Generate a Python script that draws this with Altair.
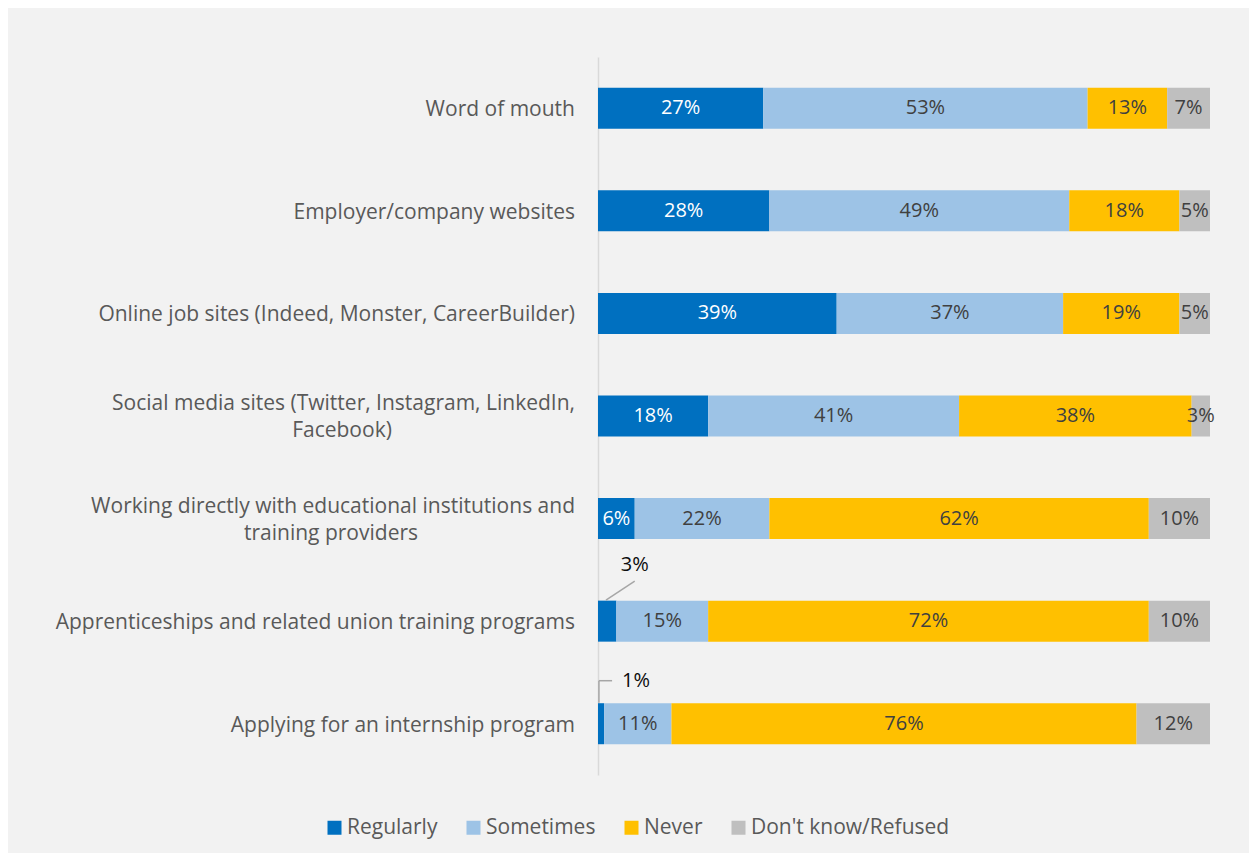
import altair as alt
import pandas as pd

sources = [
    "Word of mouth",
    "Employer/company websites",
    "Online job sites (Indeed, Monster, CareerBuilder)",
    "Social media sites (Twitter, Instagram, LinkedIn, Facebook)",
    "Working directly with educational institutions and training providers",
    "Apprenticeships and related union training programs",
    "Applying for an internship program",
]
# axis label lines (wrapped as in the original)
label_line1 = [
    "Word of mouth",
    "Employer/company websites",
    "Online job sites (Indeed, Monster, CareerBuilder)",
    "Social media sites (Twitter, Instagram, LinkedIn,",
    "Working directly with educational institutions and",
    "Apprenticeships and related union training programs",
    "Applying for an internship program",
]
label_line2 = ["", "", "", "Facebook)", "training providers", "", ""]

categories = ["Regularly", "Sometimes", "Never", "Don't know/Refused"]
regularly = [27, 28, 39, 18, 6, 3, 1]
sometimes = [53, 49, 37, 41, 22, 15, 11]
never = [13, 18, 19, 38, 62, 72, 76]
dont_know = [7, 5, 5, 3, 10, 10, 12]
colors = ["#0070c0", "#9dc3e6", "#ffc000", "#bfbfbf"]

rows = []
for i, s in enumerate(sources):
    for j, (c, vals) in enumerate(zip(categories, [regularly, sometimes, never, dont_know])):
        rows.append({"source": s, "category": c, "value": vals[i], "order": j})
df = pd.DataFrame(rows)

ldf = pd.DataFrame({"source": sources, "line1": label_line1, "line2": label_line2})

FONT = "Open Sans"
LFS = 21
FS = 20

yenc = alt.Y(
    "source:N",
    sort=sources,
    title=None,
    scale=alt.Scale(paddingInner=0.6, paddingOuter=0.3),
    axis=alt.Axis(
        labels=False,
        ticks=False,
        domainColor="#d9d9d9",
        domainWidth=1.5,
    ),
)
ysimple = alt.Y("source:N", sort=sources)

base = alt.Chart(df).transform_stack(
    stack="value", as_=["x0", "x1"], groupby=["source"], sort=[alt.SortField("order")]
).transform_calculate(mid="(datum.x0 + datum.x1) / 2", lbl="datum.value + '%'")

bars = base.mark_bar().encode(
    y=yenc,
    x=alt.X("x0:Q", scale=alt.Scale(domain=[0, 100], nice=False), axis=None),
    x2="x1:Q",
    color=alt.Color(
        "category:N",
        scale=alt.Scale(domain=categories, range=colors),
        sort=categories,
        legend=alt.Legend(
            title=None,
            orient="none",
            direction="horizontal",
            legendX=-274,
            legendY=760,
            symbolType="square",
            symbolSize=196,
            symbolStrokeWidth=0,
            labelFont=FONT,
            labelFontSize=LFS,
            labelColor="#595959",
            labelOffset=2,
            labelLimit=400,
            columnPadding=25,
        ),
    ),
    order=alt.Order("order:Q"),
)

texts = base.transform_filter(
    "!(datum.category == 'Regularly' && datum.value <= 3)"
).mark_text(font=FONT, fontSize=FS, baseline="middle").encode(
    y=ysimple,
    x=alt.X("mid:Q"),
    text="lbl:N",
    color=alt.condition(
        "datum.category == 'Regularly'", alt.value("white"), alt.value("#404040")
    ),
)

# category labels (left of the axis)
lab_style = dict(font=FONT, fontSize=LFS, baseline="middle", color="#595959")
lab_single = alt.Chart(ldf).transform_filter("datum.line2 == ''").mark_text(
    align="right", yOffset=2, **lab_style
).encode(y=ysimple, x=alt.value(-23), text="line1:N")
lab_first = alt.Chart(ldf).transform_filter("datum.line2 != ''").mark_text(
    align="right", yOffset=-12, **lab_style
).encode(y=ysimple, x=alt.value(-23), text="line1:N")
lab_second_a = alt.Chart(ldf).transform_filter(
    "datum.line2 == 'Facebook)'"
).mark_text(align="center", yOffset=15, **lab_style).encode(
    y=ysimple, x=alt.value(-256), text="line2:N"
)
lab_second_b = alt.Chart(ldf).transform_filter(
    "datum.line2 == 'training providers'"
).mark_text(align="center", yOffset=15, **lab_style).encode(
    y=ysimple, x=alt.value(-267), text="line2:N"
)

callouts_src = [sources[5], sources[6]]
callouts_x = [6.0, 6.2]
callouts_txt = ["3%", "1%"]
callouts_dy = [-56, -43]
cdf = pd.DataFrame({"source": callouts_src, "x": callouts_x, "text": callouts_txt})

call_texts = []
for i in range(2):
    call_texts.append(
        alt.Chart(cdf.iloc[[i]]).mark_text(
            font=FONT, fontSize=FS, baseline="middle", color="#0d0d0d", yOffset=callouts_dy[i]
        ).encode(y=ysimple, x="x:Q", text="text:N")
    )

ldf1 = pd.DataFrame({"source": [sources[5]], "xa": [1.3], "xb": [6.0]})
lead1 = alt.Chart(ldf1).mark_rule(color="#a6a6a6", strokeWidth=1.5, yOffset=-21, y2Offset=-40).encode(
    x="xa:Q", x2="xb:Q", y=ysimple, y2="source:N"
)
ldf2 = pd.DataFrame({"source": [sources[6]], "xa": [0.15], "xb": [2.3]})
lead2 = alt.Chart(ldf2).mark_rule(color="#a6a6a6", strokeWidth=1.5, yOffset=-21, y2Offset=-43).encode(
    x="xa:Q", y=ysimple, y2="source:N"
)
lead3 = alt.Chart(ldf2).mark_rule(color="#a6a6a6", strokeWidth=1.5, yOffset=-43).encode(
    x="xa:Q", x2="xb:Q", y=ysimple
)

chart = alt.layer(
    bars, texts, lab_single, lab_first, lab_second_a, lab_second_b,
    lead1, lead2, lead3, *call_texts
).properties(
    width=612,
    height=718,
    background="#f2f2f2",
    padding={"left": 590, "top": 49, "right": 39, "bottom": 78},
    autosize=alt.AutoSizeParams(type="none"),
).configure_view(stroke=None)

chart.save("out.html", embed_options={"renderer": "svg", "actions": False})
